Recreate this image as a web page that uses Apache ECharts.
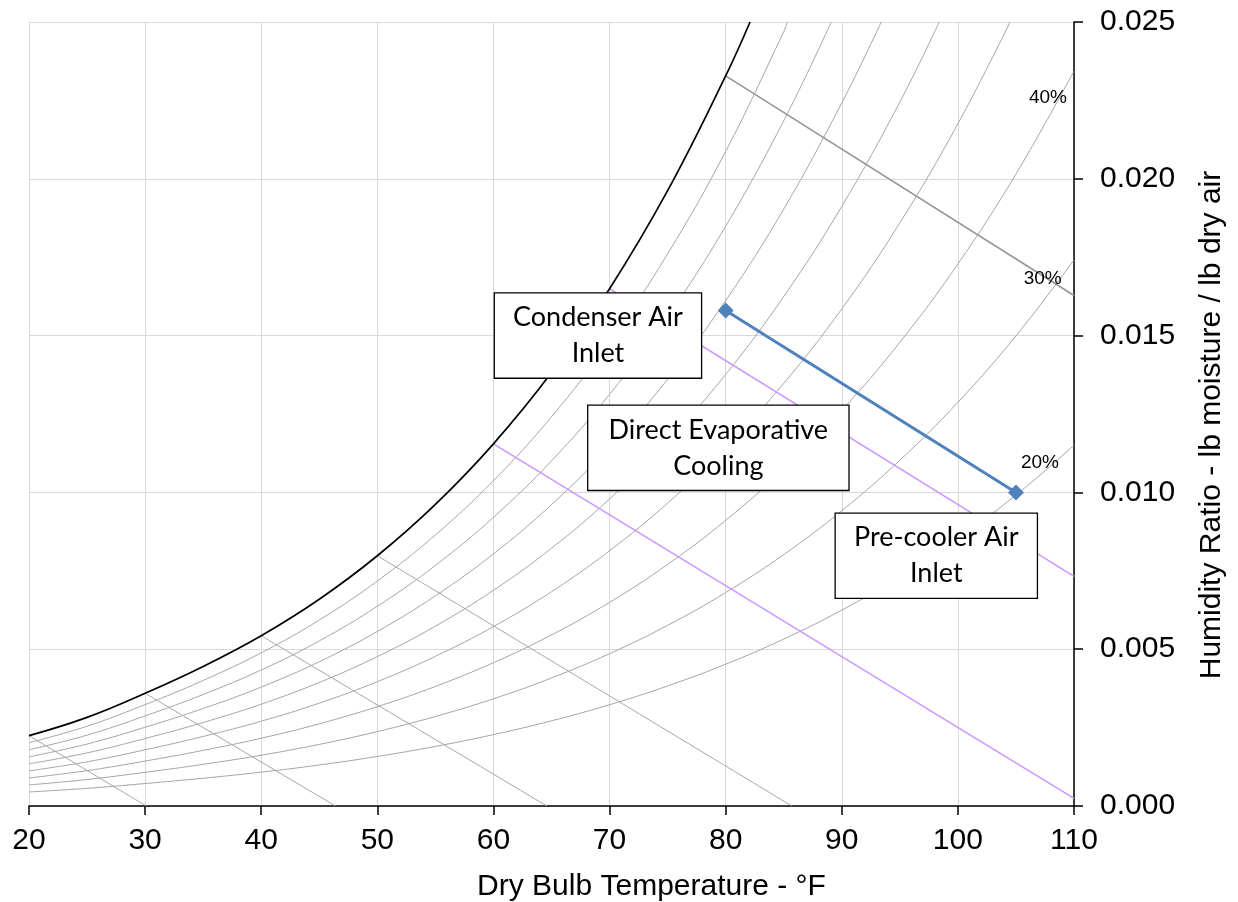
<!DOCTYPE html>
<html>
<head>
<meta charset="utf-8">
<title>Psychrometric chart – direct evaporative pre-cooling</title>
<script src="https://cdn.jsdelivr.net/npm/echarts@6.0.0/dist/echarts.min.js"></script>
<style>
  html, body { margin: 0; padding: 0; background: #fff; }
  #chart { width: 1238px; height: 902px; }
</style>
</head>
<body>
<div id="chart"></div>
<script>
// ---- Data -------------------------------------------------------------
// Dry bulb temperatures (°F) at which the relative-humidity curves are tabulated
const dryBulb = [20, 25, 30, 35, 40, 45, 50, 55, 60, 65, 70, 75, 80, 85, 90, 95, 100, 105, 110];

// Humidity ratio (lb moisture / lb dry air) along each RH curve
const rh100 = [0.002242, 0.002826, 0.003595, 0.004451, 0.005431, 0.006594, 0.007980, 0.009618, 0.011549, 0.013820, 0.016494, 0.019623, 0.023282];
const rh90  = [0.002017, 0.002543, 0.003234, 0.004003, 0.004884, 0.005929, 0.007173, 0.008643, 0.010375, 0.012410, 0.014805, 0.017605, 0.020876, 0.024688];
const rh80  = [0.001792, 0.002259, 0.002873, 0.003556, 0.004337, 0.005264, 0.006368, 0.007671, 0.009205, 0.011007, 0.013125, 0.015600, 0.018488, 0.021849];
const rh70  = [0.001568, 0.001976, 0.002512, 0.003109, 0.003792, 0.004601, 0.005565, 0.006702, 0.008040, 0.009610, 0.011454, 0.013607, 0.016117, 0.019034, 0.022420];
const rh60  = [0.001343, 0.001693, 0.002152, 0.002663, 0.003247, 0.003940, 0.004764, 0.005735, 0.006878, 0.008219, 0.009792, 0.011627, 0.013763, 0.016244, 0.019119, 0.022447];
const rh50  = [0.001119, 0.001410, 0.001792, 0.002218, 0.002704, 0.003280, 0.003965, 0.004772, 0.005721, 0.006834, 0.008139, 0.009659, 0.011427, 0.013478, 0.015851, 0.018594, 0.021755];
const rh40  = [0.000895, 0.001127, 0.001433, 0.001773, 0.002161, 0.002621, 0.003168, 0.003812, 0.004569, 0.005455, 0.006494, 0.007703, 0.009108, 0.010736, 0.012617, 0.014786, 0.017283, 0.020151, 0.023436];
const rh30  = [0.000671, 0.000845, 0.001074, 0.001329, 0.001619, 0.001964, 0.002373, 0.002855, 0.003420, 0.004082, 0.004858, 0.005760, 0.006806, 0.008017, 0.009415, 0.011024, 0.012873, 0.014992, 0.017413];
const rh20  = [0.000447, 0.000563, 0.000716, 0.000885, 0.001079, 0.001308, 0.001580, 0.001900, 0.002276, 0.002716, 0.003230, 0.003828, 0.004521, 0.005322, 0.006245, 0.007306, 0.008523, 0.009915, 0.011501];

// Dry bulb (°F) where each of the 100%..50% curves leaves the top of the chart (W = 0.025)
const topExitF = [82.1, 85.3, 89.1, 93.4, 98.4, 104.5];

// Constant wet-bulb lines: [start °F, start W], [end °F, end W]
const wetBulb20 = [[20, 0.002242], [30.1, 0]];
const wetBulb30 = [[30, 0.003595], [46.4, 0]];
const wetBulb40 = [[40, 0.005431], [64.6, 0]];
const wetBulb50 = [[50, 0.007980], [85.7, 0]];
const wetBulb80 = [[80, 0.023282], [110, 0.01628]];
// Evaporative-cooling paths (wet bulb 60 °F and 70 °F)
const evapPath60 = [[60, 0.011549], [110, 0.000245]];
const evapPath70 = [[70, 0.016494], [110, 0.00732]];

// Process: condenser air inlet -> pre-cooler air inlet
const processLine = [[80, 0.0158], [105, 0.0100]];

// RH curve labels and where they sit
const rhLabels = ['40%', '30%', '20%'];
const rhLabelAt = [[107.76, 0.02259], [107.30, 0.01681], [107.07, 0.01094]];

// Call-out boxes and where they are centred
const calloutText = ['Condenser Air\nInlet', 'Direct Evaporative\nCooling', 'Pre-cooler Air\nInlet'];
const calloutAt = [[69.0, 0.01500], [79.37, 0.01142], [98.14, 0.00798]];
const calloutWidth = [206, 260, 201];

// Axis ranges and ticks
const xMin = 20, xMax = 110, xStep = 10;
const yMin = 0, yMax = 0.025, yStep = 0.005;

// ---- Build series -----------------------------------------------------
function curve(values, exitF) {
  const pts = values.map((w, i) => [dryBulb[i], w]);
  if (exitF != null) pts.push([exitF, yMax]);
  return pts;
}

const GREY = '#a6a6a6';
function lineSeries(data, color, width, z) {
  return {
    type: 'line', data: data, symbol: 'none', showSymbol: false,
    smooth: 0.4, clip: true, silent: true, z: z || 2,
    lineStyle: { color: color, width: width }
  };
}

const series = [
  lineSeries(curve(rh90, topExitF[1]), GREY, 1),
  lineSeries(curve(rh80, topExitF[2]), GREY, 1),
  lineSeries(curve(rh70, topExitF[3]), GREY, 1),
  lineSeries(curve(rh60, topExitF[4]), GREY, 1),
  lineSeries(curve(rh50, topExitF[5]), GREY, 1),
  lineSeries(curve(rh40), GREY, 1),
  lineSeries(curve(rh30), GREY, 1),
  lineSeries(curve(rh20), GREY, 1),
  lineSeries(wetBulb20, GREY, 1),
  lineSeries(wetBulb30, GREY, 1),
  lineSeries(wetBulb40, GREY, 1),
  lineSeries(wetBulb50, GREY, 1),
  lineSeries(wetBulb80, '#969696', 1.6),
  lineSeries(evapPath60, '#cc99ff', 1.6, 3),
  lineSeries(evapPath70, '#cc99ff', 1.6, 3),
  lineSeries(curve(rh100, topExitF[0]), '#000000', 1.7, 4),
  {
    type: 'line', data: processLine, silent: true, z: 5,
    symbol: 'diamond', symbolSize: 16, showSymbol: true,
    itemStyle: { color: '#4f81bd', opacity: 1 },
    lineStyle: { color: '#4f81bd', width: 3 }
  },
  {
    type: 'scatter', silent: true, z: 6,
    data: rhLabelAt.map((p, i) => ({ value: p, name: rhLabels[i] })),
    symbolSize: 1, itemStyle: { color: 'rgba(0,0,0,0)', opacity: 1 },
    label: {
      show: true, position: 'inside', formatter: '{b}', opacity: 1,
      fontFamily: 'Liberation Sans, Arial, sans-serif', fontSize: 19, color: '#000'
    }
  },
  {
    type: 'scatter', silent: true, z: 10,
    data: calloutAt.map((p, i) => ({
      value: p, name: calloutText[i],
      label: { width: calloutWidth[i] }
    })),
    symbolSize: 1, itemStyle: { color: 'rgba(0,0,0,0)', opacity: 1 },
    label: {
      show: true, position: 'inside', formatter: '{b}', opacity: 1,
      align: 'center', verticalAlign: 'middle',
      fontFamily: 'Lato, Carlito, sans-serif', fontSize: 27, lineHeight: 36, color: '#000',
      backgroundColor: '#ffffff', borderColor: '#000000', borderWidth: 1.3,
      padding: [6, 0, 6, 0]
    }
  }
];

// ---- Chart ------------------------------------------------------------
const AXIS_FONT = 'Liberation Sans, Arial, sans-serif';
const chart = echarts.init(document.getElementById('chart'), null, { renderer: 'canvas' });
chart.setOption({
  animation: false,
  backgroundColor: '#ffffff',
  grid: { left: 29, right: 164, top: 22, bottom: 96, containLabel: false, outerBoundsMode: 'none' },
  xAxis: {
    type: 'value', min: xMin, max: xMax, interval: xStep,
    name: 'Dry Bulb Temperature - °F', nameLocation: 'middle', nameGap: 66,
    nameTextStyle: { fontFamily: AXIS_FONT, fontSize: 30, color: '#000', padding: [0, 0, 0, 200] },
    axisLine: { show: true, onZero: false, lineStyle: { color: '#000', width: 1.5 } },
    axisTick: { show: true, inside: false, length: 9, lineStyle: { color: '#000', width: 1.5 } },
    axisLabel: { margin: 20, fontFamily: AXIS_FONT, fontSize: 30, color: '#000' },
    splitLine: { show: true, lineStyle: { color: '#d9d9d9', width: 1 } }
  },
  yAxis: {
    type: 'value', position: 'right', min: yMin, max: yMax, interval: yStep,
    name: 'Humidity Ratio - lb moisture / lb dry air', nameLocation: 'middle', nameRotate: 90, nameGap: 123,
    nameTextStyle: { fontFamily: AXIS_FONT, fontSize: 30, color: '#000', padding: [0, 22, 0, 0] },
    axisLine: { show: true, onZero: false, lineStyle: { color: '#000', width: 1.5 } },
    axisTick: { show: true, inside: false, length: 9, lineStyle: { color: '#000', width: 1.5 } },
    axisLabel: { margin: 26, fontFamily: AXIS_FONT, fontSize: 30, color: '#000', formatter: v => v.toFixed(3) },
    splitLine: { show: true, lineStyle: { color: '#d9d9d9', width: 1 } }
  },
  tooltip: { show: false },
  legend: { show: false },
  series: series
});
</script>
</body>
</html>
